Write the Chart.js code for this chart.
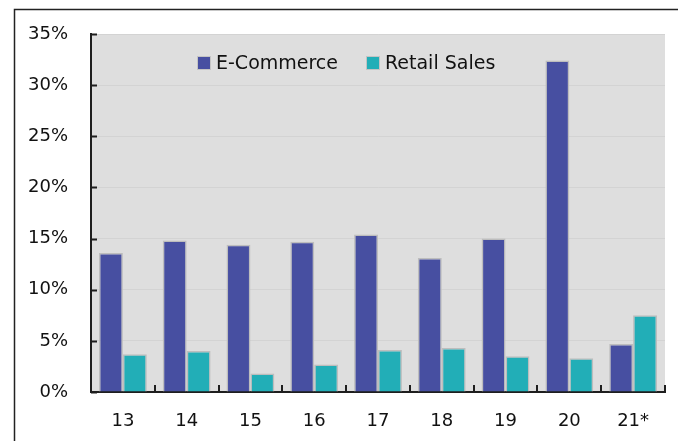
<!DOCTYPE html>
<html>
<head>
<meta charset="utf-8">
<script src="https://cdn.jsdelivr.net/npm/chart.js@4.4.1/dist/chart.umd.min.js"></script>
<style>
  body { margin: 0; background: #fff; }
  canvas { display: block; }
</style>
</head>
<body>
<canvas id="myChart" width="678" height="441"></canvas>
<script>
var years = ["13", "14", "15", "16", "17", "18", "19", "20", "21*"];
var eCommerce = [13.6, 14.8, 14.4, 14.7, 15.4, 13.1, 15.0, 32.4, 4.7];
var retailSales = [3.7, 4.0, 1.8, 2.7, 4.1, 4.3, 3.5, 3.3, 7.5];
var yTicks = [0, 5, 10, 15, 20, 25, 30, 35];

var fontFamily = "'DejaVu Sans', sans-serif";
var axisColor = "#1e1e1e";

// grey plot area + outer frame
var backgroundPlugin = {
    id: "background",
    beforeDraw: function (chart) {
        var ctx = chart.ctx;
        var a = chart.chartArea;
        ctx.save();
        ctx.fillStyle = "#dedede";
        ctx.fillRect(a.left, a.top, a.right - a.left, a.bottom - a.top);
        ctx.strokeStyle = "#222";
        ctx.lineWidth = 1.5;
        ctx.beginPath();
        ctx.moveTo(14.5, chart.height);
        ctx.lineTo(14.5, 9.5);
        ctx.lineTo(chart.width, 9.5);
        ctx.stroke();
        ctx.restore();
    }
};

// small tick marks pointing into the plot
var innerTicksPlugin = {
    id: "innerTicks",
    afterDraw: function (chart) {
        var ctx = chart.ctx;
        var a = chart.chartArea;
        var x = chart.scales.x;
        var y = chart.scales.y;
        ctx.save();
        ctx.strokeStyle = axisColor;
        ctx.lineWidth = 2;
        ctx.beginPath();
        yTicks.forEach(function (v) {
            var py = Math.round(y.getPixelForValue(v)) + 0.5;
            ctx.moveTo(a.left, py);
            ctx.lineTo(a.left + 6, py);
        });
        for (var i = 0; i <= years.length; i++) {
            var px = Math.round(x.getPixelForValue(i - 0.5));
            ctx.moveTo(px, a.bottom);
            ctx.lineTo(px, a.bottom - 7);
        }
        ctx.stroke();
        ctx.restore();
    }
};

// legend drawn inside the plot area
var insideLegendPlugin = {
    id: "insideLegend",
    afterDraw: function (chart) {
        var ctx = chart.ctx;
        var a = chart.chartArea;
        var cx = a.left + 106;
        var cy = a.top + 29;
        ctx.save();
        ctx.font = "19px " + fontFamily;
        ctx.textBaseline = "middle";
        chart.data.datasets.forEach(function (ds) {
            ctx.fillStyle = "#c4c4c4";
            ctx.fillRect(cx, cy - 7, 14, 14);
            ctx.fillStyle = ds.backgroundColor;
            ctx.fillRect(cx + 1, cy - 6, 12, 12);
            ctx.fillStyle = "#111";
            ctx.fillText(ds.label, cx + 19, cy + 1);
            cx += 19 + ctx.measureText(ds.label).width + 28;
        });
        ctx.restore();
    }
};

new Chart("myChart", {
    type: "bar",
    data: {
        labels: years,
        datasets: [{
            label: "E-Commerce",
            data: eCommerce,
            backgroundColor: "#474fa1",
            borderColor: "#bdbdbd",
            borderWidth: 1.5
        }, {
            label: "Retail Sales",
            data: retailSales,
            backgroundColor: "#22aeb7",
            borderColor: "#bdbdbd",
            borderWidth: 1.5
        }]
    },
    options: {
        responsive: false,
        animation: false,
        layout: {
            padding: { left: 0, top: 34, right: 13, bottom: 0 }
        },
        datasets: {
            bar: { barPercentage: 1.0, categoryPercentage: 0.75 }
        },
        plugins: {
            legend: { display: false },
            tooltip: { enabled: false }
        },
        scales: {
            x: {
                grid: { display: false, drawTicks: false },
                border: { display: true, color: axisColor, width: 2 },
                ticks: {
                    color: "#111",
                    padding: 19,
                    font: { family: fontFamily, size: 18 }
                },
                afterFit: function (scale) { scale.height = 49; }
            },
            y: {
                min: 0,
                max: 35,
                grid: { color: "#d3d3d3", lineWidth: 1, drawTicks: false },
                border: { display: true, color: axisColor, width: 2 },
                ticks: {
                    stepSize: 5,
                    color: "#111",
                    padding: 23,
                    font: { family: fontFamily, size: 18 },
                    callback: function (v) { return v + "%"; }
                },
                afterFit: function (scale) { scale.width = 91; }
            }
        }
    },
    plugins: [backgroundPlugin, innerTicksPlugin, insideLegendPlugin]
});
</script>
</body>
</html>
